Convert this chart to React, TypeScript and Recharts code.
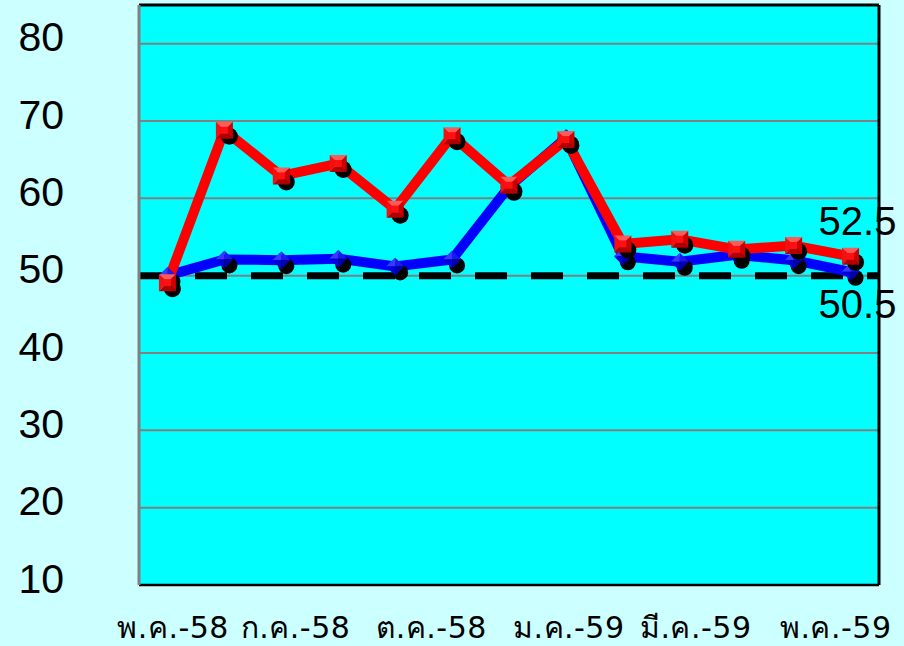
import React from 'react';
import { LineChart, Line, XAxis, YAxis, CartesianGrid, ReferenceLine } from 'recharts';

const months = ['พ.ค.-58','มิ.ย.-58','ก.ค.-58','ส.ค.-58','ก.ย.-58','ต.ค.-58','พ.ย.-58','ธ.ค.-58','ม.ค.-59','ก.พ.-59','มี.ค.-59','เม.ย.-59','พ.ค.-59'];
const redValues = [49.1, 68.8, 62.9, 64.5, 58.6, 68.1, 61.7, 67.6, 54.1, 54.7, 53.4, 53.9, 52.5];
const blueValues = [50.0, 52.1, 52.0, 52.2, 51.2, 52.1, 61.5, 67.8, 52.5, 51.8, 52.7, 52.0, 50.5];
const xTickPositions = [0.1, 2.25, 4.64, 7.05, 9.28, 11.74];
const xTickLabels = ['พ.ค.-58', 'ก.ค.-58', 'ต.ค.-58', 'ม.ค.-59', 'มี.ค.-59', 'พ.ค.-59'];
const yTicks = [10, 20, 30, 40, 50, 60, 70, 80];
const yDomain = [10, 85];
const xDomain = [-0.5, 12.5];
const referenceValue = 50;

const data = months.map((m, i) => ({ idx: i, month: m, red: redValues[i], blue: blueValues[i] }));

const NUM_FONT = "'Liberation Sans', Arial, sans-serif";
const THAI_FONT = "Tahoma, 'DejaVu Sans', 'Noto Sans', sans-serif";

const RedDot = (props: any) => {
  const { cx, cy, index } = props;
  if (cx == null || cy == null) return null;
  const s = 8.5;
  const c = 3.5;
  return (
    <g key={`r${index}`}>
      <circle cx={cx + 5} cy={cy + 6} r={8.5} fill="#000" />
      <polygon points={`${cx - s},${cy - s} ${cx + s},${cy - s} ${cx},${cy}`} fill="#FF5a5a" />
      <polygon points={`${cx - s},${cy - s} ${cx - s},${cy + s} ${cx},${cy}`} fill="#F21010" />
      <polygon points={`${cx + s},${cy - s} ${cx + s},${cy + s} ${cx},${cy}`} fill="#CC0000" />
      <polygon points={`${cx - s},${cy + s} ${cx + s},${cy + s} ${cx},${cy}`} fill="#B00000" />
      <rect x={cx - c} y={cy - c} width={2 * c} height={2 * c} fill="#FF1010" />
    </g>
  );
};

const BlueDot = (props: any) => {
  const { cx, cy, index } = props;
  if (cx == null || cy == null) return null;
  const s = 9;
  return (
    <g key={`b${index}`}>
      <circle cx={cx + 5} cy={cy + 6} r={8} fill="#000" />
      <polygon points={`${cx},${cy - s} ${cx - s},${cy} ${cx},${cy}`} fill="#3a3aFF" />
      <polygon points={`${cx},${cy - s} ${cx + s},${cy} ${cx},${cy}`} fill="#1a1aF0" />
      <polygon points={`${cx - s},${cy} ${cx},${cy + s} ${cx},${cy}`} fill="#0000D8" />
      <polygon points={`${cx + s},${cy} ${cx},${cy + s} ${cx},${cy}`} fill="#0000B0" />
    </g>
  );
};

const RedLabel = (props: any) => {
  const { x, y, index, value } = props;
  if (index !== months.length - 1) return null;
  return (
    <text x={x + 7} y={y - 21} textAnchor="middle" fontSize={40} fontFamily={NUM_FONT} fill="#000">
      {value}
    </text>
  );
};

const BlueLabel = (props: any) => {
  const { x, y, index, value } = props;
  if (index !== months.length - 1) return null;
  return (
    <text x={x + 7} y={y + 46} textAnchor="middle" fontSize={40} fontFamily={NUM_FONT} fill="#000">
      {value}
    </text>
  );
};

const YTick = (props: any) => {
  const { x, y, payload } = props;
  return (
    <text x={x} y={y - 7} dy="0.36em" textAnchor="end" fontSize={41} fontFamily={NUM_FONT} fill="#000">
      {payload.value}
    </text>
  );
};

export default function App() {
  return (
    <div style={{ position: 'absolute', left: 0, top: 0, width: 904, height: 646, background: '#CCFFFF', overflow: 'hidden' }}>
      <LineChart width={904} height={646} data={data} margin={{ top: 5, right: 25, left: 0, bottom: 0 }}>
        <CartesianGrid vertical={false} stroke="#808080" strokeWidth={2} fill="#00FFFF" fillOpacity={1} />
        <XAxis
          dataKey="idx"
          type="number"
          domain={xDomain}
          ticks={xTickPositions}
          interval={0}
          tickFormatter={(v: number) => xTickLabels[xTickPositions.indexOf(v)] ?? ''}
          axisLine={{ stroke: '#000', strokeWidth: 2.5 }}
          tickLine={false}
          tickSize={0}
          tickMargin={32}
          height={61}
          tick={{ fill: '#000', fontSize: 30, fontFamily: THAI_FONT, letterSpacing: 0.5 }}
        />
        <YAxis
          domain={yDomain}
          ticks={yTicks}
          interval={0}
          allowDataOverflow
          axisLine={{ stroke: '#808080', strokeWidth: 3 }}
          tickLine={false}
          tickSize={0}
          tickMargin={75}
          width={139}
          tick={<YTick />}
        />
        <ReferenceLine y={yDomain[1]} stroke="#000" strokeWidth={3} />
        <ReferenceLine x={xDomain[1]} stroke="#000" strokeWidth={3} />
        <ReferenceLine y={referenceValue} stroke="#000" strokeWidth={7} strokeDasharray="32 24" />
        <Line dataKey="blue" stroke="#0000FF" strokeWidth={10} dot={<BlueDot />} activeDot={false} isAnimationActive={false} label={<BlueLabel />} />
        <Line dataKey="red" stroke="#FF0000" strokeWidth={10} dot={<RedDot />} activeDot={false} isAnimationActive={false} label={<RedLabel />} />
      </LineChart>
    </div>
  );
}
